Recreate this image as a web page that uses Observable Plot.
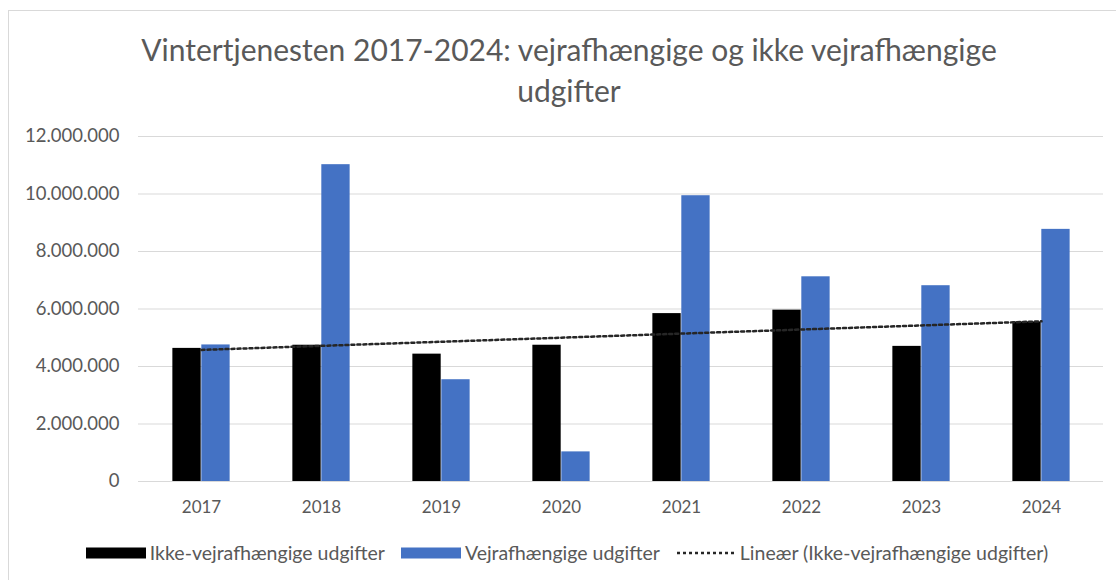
<!DOCTYPE html>
<html>
<head>
<meta charset="utf-8">
<script src="https://cdn.jsdelivr.net/npm/d3@7"></script>
<script src="https://cdn.jsdelivr.net/npm/@observablehq/plot@0.6"></script>
<style>
  html, body { margin: 0; padding: 0; background: #fff; }
  body { width: 1116px; height: 580px; overflow: hidden; position: relative; font-family: Lato, "Open Sans", sans-serif; }
  #frame { position: absolute; left: 8px; top: 10px; width: 1200px; height: 700px; border-left: 1px solid #d9d9d9; border-top: 1px solid #d9d9d9; }
  #title { position: absolute; left: 0; top: 29px; width: 1138px; text-align: center; color: #595959; font-size: 30px; line-height: 41px; }
  #chart { position: absolute; left: 0; top: 120px; }
  #legend { position: absolute; left: 0; top: 541px; width: 1150px; display: flex; justify-content: center; align-items: center; color: #595959; font-size: 19.5px; }
  #legend .item { display: flex; align-items: center; margin-right: 16px; }
  #legend svg { margin-right: 4px; }
</style>
</head>
<body>
<div id="frame"></div>
<div id="title">Vintertjenesten 2017-2024: vejrafhængige og ikke vejrafhængige<br>udgifter</div>
<div id="chart"></div>
<div id="legend"></div>
<script>
const years = ["2017", "2018", "2019", "2020", "2021", "2022", "2023", "2024"];
const ikkeVejrafhaengige = [4630000, 4740000, 4430000, 4740000, 5840000, 5960000, 4700000, 5550000];
const vejrafhaengige = [4750000, 11020000, 3540000, 1030000, 9940000, 7120000, 6810000, 8770000];
const yTicks = [0, 2000000, 4000000, 6000000, 8000000, 10000000, 12000000];
const seriesNames = ["Ikke-vejrafhængige udgifter", "Vejrafhængige udgifter", "Lineær (Ikke-vejrafhængige udgifter)"];
const seriesColors = ["#000000", "#4472c4", "#262626"];

// linear trend of the non-weather series (least squares on category index)
const n = years.length;
const xs = years.map((_, i) => i + 1);
const mx = d3.mean(xs), my = d3.mean(ikkeVejrafhaengige);
const slope = d3.sum(xs, (x, i) => (x - mx) * (ikkeVejrafhaengige[i] - my)) / d3.sum(xs, x => (x - mx) ** 2);
const intercept = my - slope * mx;

const rows = years.map((y, i) => ({year: y, ikke: ikkeVejrafhaengige[i], vejr: vejrafhaengige[i], trend: intercept + slope * xs[i]}));

const fmt = d3.formatLocale({decimal: ",", thousands: ".", grouping: [3], currency: ["", ""]}).format(",d");

const W = 1116, H = 400, ML = 138, MR = 13;
const step = (W - ML - MR) / n;
const barW = step * 0.24;

const plot = Plot.plot({
  width: W,
  height: H,
  marginLeft: ML,
  marginRight: MR,
  marginTop: 16,
  marginBottom: 39,
  style: {fontFamily: "Lato, 'Open Sans', sans-serif", fontSize: "17px", color: "#595959", background: "transparent"},
  x: {domain: years, padding: 0, label: null, tickSize: 0, tickPadding: 19},
  y: {domain: [0, 12000000], ticks: yTicks, tickFormat: fmt, label: null, tickSize: 0, tickPadding: 19},
  marks: [
    Plot.gridY(yTicks, {stroke: "#d9d9d9", strokeOpacity: 1, strokeWidth: 1}),
    Plot.barY(rows, {x: "year", y: "ikke", fill: seriesColors[0], insetLeft: step / 2 - barW, insetRight: step / 2}),
    Plot.barY(rows, {x: "year", y: "vejr", fill: seriesColors[1], insetLeft: step / 2, insetRight: step / 2 - barW}),
    Plot.line(rows, {x: "year", y: "trend", stroke: seriesColors[2], strokeWidth: 2.5, strokeDasharray: "3,3"}),
    Plot.ruleY([0], {stroke: "#d9d9d9", strokeWidth: 1})
  ]
});
plot.querySelectorAll("[aria-label='y-axis tick label'] text").forEach(t => { t.setAttribute("fill", "#595959"); t.style.fontSize = "18.5px"; });
plot.querySelectorAll("[aria-label='x-axis tick label'] text").forEach(t => t.setAttribute("fill", "#595959"));
document.getElementById("chart").appendChild(plot);

const legend = document.getElementById("legend");
seriesNames.forEach((name, i) => {
  const item = document.createElement("div");
  item.className = "item";
  const sw = i < 2
    ? `<svg width="60" height="12"><rect x="0" y="0.5" width="60" height="11" fill="${seriesColors[i]}"/></svg>`
    : `<svg width="60" height="12"><line x1="1" x2="60" y1="6" y2="6" stroke="${seriesColors[i]}" stroke-width="2.5" stroke-dasharray="3,3"/></svg>`;
  item.innerHTML = sw + `<span>${name}</span>`;
  legend.appendChild(item);
});
</script>
</body>
</html>
